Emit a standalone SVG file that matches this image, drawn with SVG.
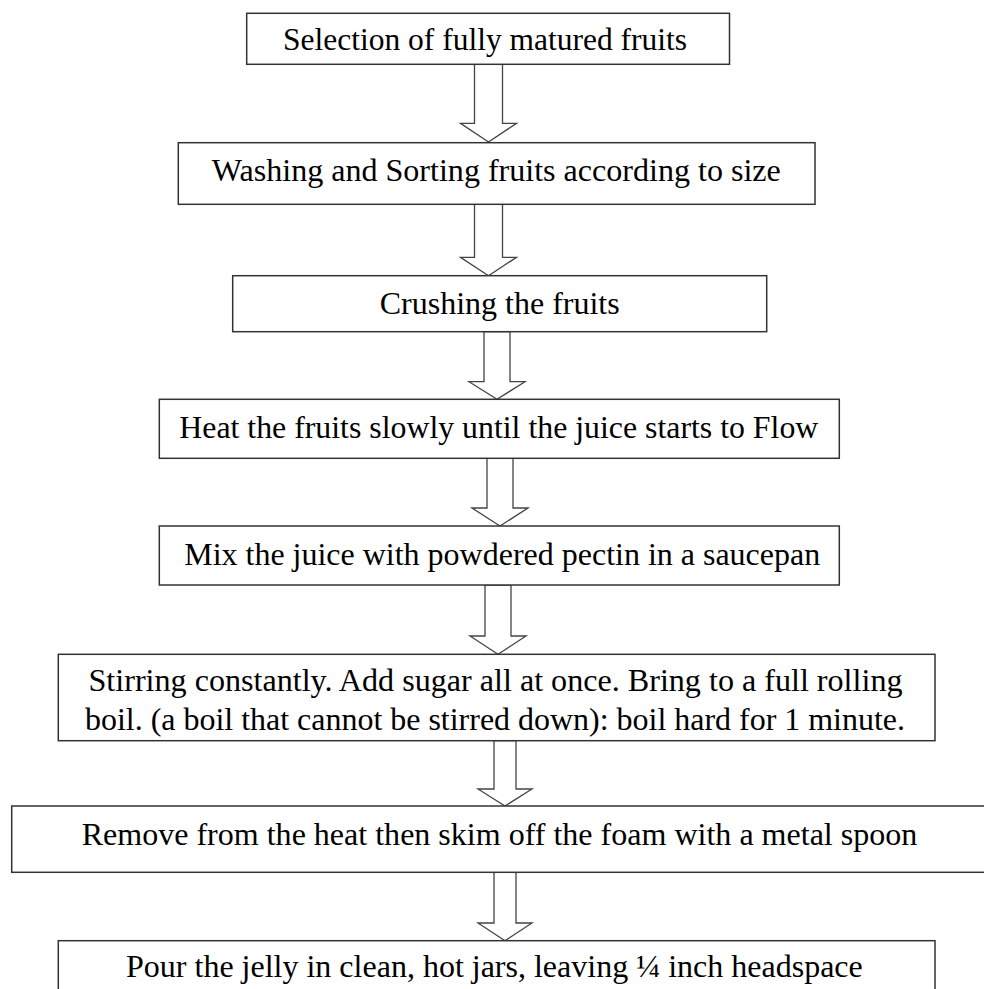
<svg xmlns="http://www.w3.org/2000/svg" width="984" height="989" viewBox="0 0 984 989">
<style>
.box{fill:#fff;stroke:#333;stroke-width:1.5}
.arr{fill:#fff;stroke:#444;stroke-width:1.3;stroke-linejoin:miter}
.t{font-family:"Liberation Serif","Times New Roman",serif;font-size:32px;fill:#000;text-anchor:middle}
</style>
<rect width="984" height="989" fill="#fff"/>
<g id="connectors">
<polygon class="arr" points="474.5,64.3 502.5,64.3 502.5,123.3 516.5,123.3 488.5,142 460.5,123.3 474.5,123.3"/>
<polygon class="arr" points="474.5,204.3 502.5,204.3 502.5,257.3 516.5,257.3 488.5,275.7 460.5,257.3 474.5,257.3"/>
<polygon class="arr" points="484,331.7 510,331.7 510,381.7 525,381.7 497,399.3 469,381.7 484,381.7"/>
<polygon class="arr" points="487,458.3 513,458.3 513,508 528,508 500,526 472,508 487,508"/>
<polygon class="arr" points="485,585 511,585 511,636 526,636 498,654.3 470,636 485,636"/>
<polygon class="arr" points="494,740.7 516,740.7 516,789 532,789 505,806 478,789 494,789"/>
<polygon class="arr" points="494,872.3 516,872.3 516,923 532,923 505,940.7 478,923 494,923"/>
</g>
<g id="n1"><rect class="box" x="246.7" y="13.3" width="482.8" height="51"/><text class="t" x="485" y="50" textLength="404" lengthAdjust="spacingAndGlyphs">Selection of fully matured fruits</text></g>
<g id="n2"><rect class="box" x="178.3" y="142.7" width="636.7" height="61.6"/><text class="t" x="496.3" y="181" textLength="569" lengthAdjust="spacingAndGlyphs">Washing and Sorting fruits according to size</text></g>
<g id="n3"><rect class="box" x="232.7" y="275.7" width="534" height="56"/><text class="t" x="499.7" y="314" textLength="240" lengthAdjust="spacingAndGlyphs">Crushing the fruits</text></g>
<g id="n4"><rect class="box" x="159.3" y="399.3" width="680" height="59"/><text class="t" x="498.8" y="438" textLength="639" lengthAdjust="spacingAndGlyphs">Heat the fruits slowly until the juice starts to Flow</text></g>
<g id="n5"><rect class="box" x="159.3" y="526" width="680" height="59"/><text class="t" x="502.2" y="565" textLength="636" lengthAdjust="spacingAndGlyphs">Mix the juice with powdered pectin in a saucepan</text></g>
<g id="n6"><rect class="box" x="58.3" y="654.3" width="876.7" height="86.4"/><text class="t" x="495.5" y="691" textLength="814" lengthAdjust="spacingAndGlyphs">Stirring constantly. Add sugar all at once. Bring to a full rolling</text><text class="t" x="495" y="730" textLength="820" lengthAdjust="spacingAndGlyphs">boil. (a boil that cannot be stirred down): boil hard for 1 minute.</text></g>
<g id="n7"><rect class="box" x="11.7" y="806" width="990" height="66.3"/><text class="t" x="499.5" y="845" textLength="835.6" lengthAdjust="spacingAndGlyphs">Remove from the heat then skim off the foam with a metal spoon</text></g>
<g id="n8"><rect class="box" x="58.3" y="940.7" width="876.7" height="60"/><text class="t" x="494.4" y="977" textLength="736.7" lengthAdjust="spacingAndGlyphs">Pour the jelly in clean, hot jars, leaving ¼ inch headspace</text></g>
</svg>
